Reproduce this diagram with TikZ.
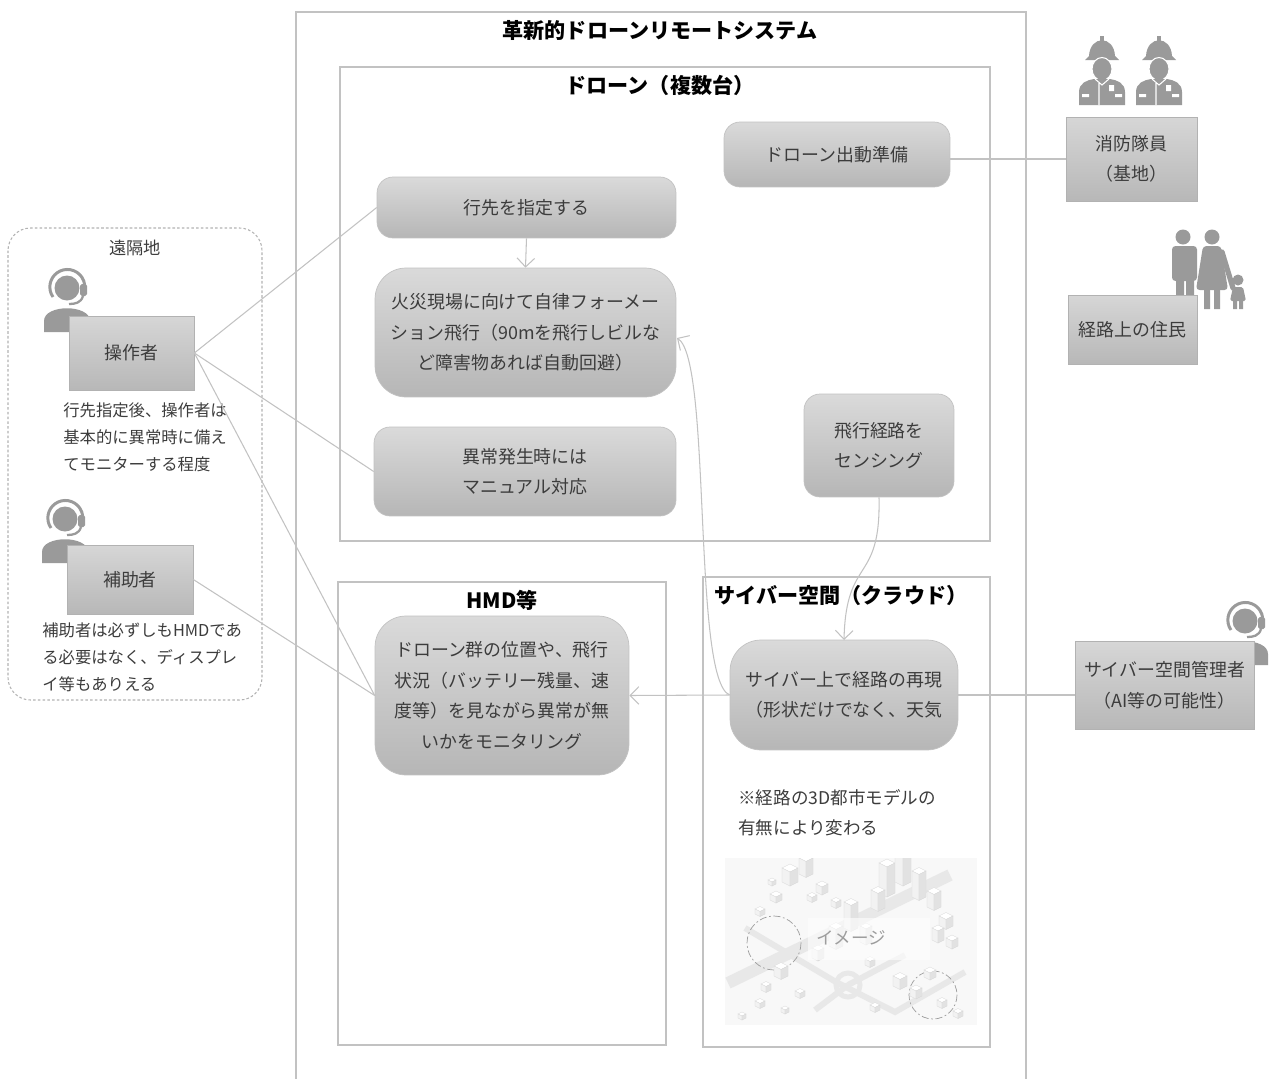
\documentclass[tikz,border=0pt]{standalone}
\usepackage{fontspec}
\setmainfont{Noto Sans CJK JP}
\usetikzlibrary{arrows.meta,calc}
\usepackage{xcolor}

\definecolor{txt}{HTML}{3C3C3C}
\definecolor{frame}{HTML}{C2C2C2}
\definecolor{icon}{HTML}{9A9A9A}
\definecolor{boxtop}{HTML}{DADADA}
\definecolor{boxbot}{HTML}{B6B6B6}

\newcommand{\bxfont}{\fontsize{10.2}{17.4}\selectfont}
\newcommand{\notefont}{\fontsize{9.3}{15.4}\selectfont}
\newcommand{\ttlfont}{\fontsize{12}{14}\selectfont\bfseries}

% small isometric block: x, y, height, half width
\newcommand{\isoblock}[4]{%
  \filldraw[fill=white, draw=black!16, line width=0.2pt] (#1-#4,#2-#3) -- (#1,#2-#3-#4/2) -- (#1+#4,#2-#3) -- (#1,#2-#3+#4/2) -- cycle;
  \filldraw[fill=black!6, draw=black!16, line width=0.2pt] (#1-#4,#2-#3) -- (#1,#2-#3+#4/2) -- (#1,#2+#4/2) -- (#1-#4,#2) -- cycle;
  \filldraw[fill=black!13, draw=black!18, line width=0.2pt] (#1,#2-#3+#4/2) -- (#1+#4,#2-#3) -- (#1+#4,#2) -- (#1,#2+#4/2) -- cycle;
}

\begin{document}
\begin{tikzpicture}[
    x=0.02cm, y=-0.02cm,
    frm/.style={draw=frame, line width=0.6pt},
    task/.style={draw=frame, top color=boxtop, bottom color=boxbot, rounded corners=0.32cm, align=center, text=txt, font=\bxfont, inner sep=0pt},
    bigtask/.style={task, rounded corners=0.62cm},
    actor/.style={draw=black!30, top color=black!16, bottom color=black!28, align=center, text=txt, font=\bxfont, inner sep=0pt},
    note/.style={align=left, text=txt, font=\notefont, inner sep=0pt, anchor=north west},
    ttl/.style={font=\ttlfont, text=black, inner sep=0pt},
    link/.style={draw=frame, line width=0.6pt},
    arrow/.style={link, -{Straight Barb[length=5pt,width=10pt]}},
    agent/.pic={
        \fill[icon] (0,0) circle (12.5);
        \draw[icon, line width=1.7pt] (-14,9) arc[start angle=145, end angle=385, radius=17.5];
        \fill[icon, rounded corners=1pt] (13,-4) rectangle (20,8);
        \draw[icon, line width=1.3pt] (16,8) .. controls (14,15) and (8,16) .. (2,16);
        \fill[icon] (-23,44) -- (-23,33) .. controls (-23,16) and (23,16) .. (23,33) -- (23,44) -- cycle;
    },
    fireman/.pic={
        \fill[icon] (-17,-6) -- (17,-6) -- (13,-10) .. controls (12,-31) and (-12,-31) .. (-13,-10) -- cycle;
        \fill[icon] (-2,-30) rectangle (2,-22);
        \fill[icon, draw=white, line width=0.6pt] (0,3) ellipse (10 and 11.5);
        \fill[icon] (-23,39) -- (-23,26) .. controls (-23,17) and (-15,14) .. (-8,13) -- (8,13) .. controls (15,14) and (23,17) .. (23,26) -- (23,39) -- cycle;
        \draw[white, line width=0.6pt] (-7,13) -- (0,19) -- (7,13) (-3,17) -- (-3,39);
        \fill[white] (-20,28) rectangle (-13,31) (13,28) rectangle (20,31) (7,19) rectangle (12,25);
    }
]
\useasboundingbox (0,0) rectangle (1269,1079);

    % Frames
    \draw[frm] (296,1090) -- (296,12) -- (1026,12) -- (1026,1090);
    \draw[frm] (340,67) rectangle (990,541);
    \draw[frm] (338,582) rectangle (666,1045);
    \draw[frm] (703,577) rectangle (990,1047);
    \draw[draw=black!30, line width=0.6pt, dash pattern=on 1.5pt off 1.2pt, rounded corners=0.45cm] (8,228) rectangle (262,700);

    \node[ttl] (sysT) at (660,30) {革新的ドローンリモートシステム};
    \node[ttl] (droneT) at (660,85) {ドローン（複数台）};
    \node[ttl] (hmdT) at (502,600) {HMD等};
    \node[ttl] (cyberT) at (841,595) {サイバー空間（クラウド）};
    \node[text=txt, font=\fontsize{9.8}{12}\selectfont, inner sep=0pt] (remoteT) at (135,248) {遠隔地};

    % Icons
    \pic at (67,288) {agent};
    \pic at (65,519) {agent};
    \pic at (1245,621) {agent};
    \pic at (1102,66) {fireman};
    \pic at (1159,66) {fireman};

    % family
    \fill[icon] (1183,237) circle (7.5) (1212,237) circle (7.5) (1238,280) circle (5.5);
    \fill[icon, rounded corners=2pt] (1172,246) rectangle (1197,281);
    \fill[icon] (1176,275) rectangle (1184,309) (1186,275) rectangle (1194,309);
    \fill[icon, rounded corners=2pt] (1203,246) -- (1221,246) -- (1228,290) -- (1196,290) -- cycle;
    \fill[icon] (1204,286) rectangle (1210,309) (1214,286) rectangle (1220,309);
    \draw[icon, line width=3pt, line cap=round] (1222,252) -- (1233,288);
    \fill[icon, rounded corners=1pt] (1233,287) -- (1243,287) -- (1246,301) -- (1230,301) -- cycle;
    \fill[icon] (1233,299) rectangle (1237,309) (1239,299) rectangle (1243,309);

    % Nodes
    \node[task, minimum width=4.52cm, minimum height=1.3cm] (prep) at (837,154.5) {ドローン出動準備};
    \node[task, minimum width=5.98cm, minimum height=1.22cm] (dest) at (526.5,207.5) {行先を指定する};
    \node[bigtask, minimum width=6.02cm, minimum height=2.58cm] (flight) at (525.5,332.5)
        {火災現場に向けて自律フォーメー\\ション飛行（90mを飛行しビルな\\ど障害物あれば自動回避）};
    \node[task, minimum width=6.04cm, minimum height=1.78cm] (manual) at (525,471.5) {異常発生時には\\マニュアル対応};
    \node[task, minimum width=3.0cm, minimum height=2.06cm] (sensing) at (879,445.5) {飛行経路を\\センシング};
    \node[bigtask, minimum width=5.08cm, minimum height=3.18cm] (monitor) at (502,695.5)
        {ドローン群の位置や、飛行\\状況（バッテリー残量、速\\度等）を見ながら異常が無\\いかをモニタリング};
    \node[bigtask, minimum width=4.56cm, minimum height=2.2cm] (replay) at (844,695) {サイバー上で経路の再現\\（形状だけでなく、天気};

    \node[actor, minimum width=2.5cm, minimum height=1.48cm] (op) at (131.5,353) {操作者};
    \node[actor, minimum width=2.52cm, minimum height=1.38cm] (asst) at (130,579.5) {補助者};
    \node[actor, minimum width=2.62cm, minimum height=1.68cm] (firemen) at (1131.5,159) {消防隊員\\（基地）};
    \node[actor, minimum width=2.58cm, minimum height=1.38cm] (residents) at (1132.5,329.5) {経路上の住民};
    \node[actor, minimum width=3.58cm, minimum height=1.76cm] (admin) at (1164.5,685.5) {サイバー空間管理者\\（AI等の可能性）};

    \node[note] (opNote) at (63,402) {行先指定後、操作者は\\基本的に異常時に備え\\てモニターする程度};
    \node[note] (asstNote) at (42,622) {補助者は必ずしもHMDであ\\る必要はなく、ディスプレ\\イ等もありえる};
    \node[note, font=\fontsize{10}{17}\selectfont] (cityNote) at (738,789) {※経路の3D都市モデルの\\有無により変わる};

    % Arrows
    \draw[link] (op.east) -- (dest.west);
    \draw[link] (op.east) -- (manual.west);
    \draw[link] (op.east) -- (monitor.west);
    \draw[link] (asst.east) -- (monitor.west);
    \draw[link] (firemen.west) -- (prep.east |- firemen.west);
    \draw[link] (admin.west |- replay.east) -- (replay.east);

    \draw[arrow] (dest.south) -- (flight.north);
    \draw[arrow] (sensing.south) .. controls (881,585) and (846,555) .. (844,640);
    \draw[arrow] (replay.west) -- (monitor.east);
    \draw[arrow] (replay.west) .. controls (692,680) and (712,360) .. (677,338);

    % 3D city model
    \begin{scope}
        \clip (725,858) rectangle (977,1025);
        \fill[black!3] (725,858) rectangle (977,1025);
        \draw[black!10, line width=0.24cm] (728,983) -- (950,875);
        \draw[black!10, line width=0.12cm] (745,928) -- (836,982) -- (895,1012) -- (965,972);
        \draw[black!10, line width=0.12cm] (848,985) -- (815,1010);
        \draw[black!10, line width=0.12cm] (848,985) -- (905,955);
        \draw[black!10, line width=0.1cm] (848,985) circle (12);
        \draw[black!45, line width=0.4pt, dash pattern=on 4pt off 1.5pt on 1pt off 1.5pt] (774,943) circle (27);
        \draw[black!45, line width=0.4pt, dash pattern=on 4pt off 1.5pt on 1pt off 1.5pt] (933,995) circle (24);
        \foreach \bx/\by/\bh/\bw in {790/882/14/8, 806/874/16/7, 822/892/8/6, 776/900/6/6, 760/914/5/5,
            836/906/6/5, 812/900/5/5, 772/884/4/4, 887/893/30/8, 903/882/36/8, 919/897/26/7, 934/907/16/7,
            878/908/18/7, 946/926/10/7, 952/946/8/6, 938/940/12/6, 781/976/10/7, 766/990/6/5, 800/996/5/5,
            760/1006/5/5, 785/1012/4/4, 900/986/10/7, 916/996/8/6, 930/977/7/6, 942/1006/6/5, 875/1010/5/5,
            851/928/26/7, 836/946/20/7, 866/942/16/6, 818/958/10/6, 870/965/6/5, 958/1016/5/5, 742/1018/4/4}
            {\isoblock{\bx}{\by}{\bh}{\bw}}
        \fill[white, opacity=0.6] (808,918) rectangle (930,960);
        \node[text=black!45, font=\fontsize{10}{12}\selectfont, inner sep=0pt] (cityT) at (851,938) {イメージ};
        \fill[white, opacity=0.15] (725,858) rectangle (977,1025);
    \end{scope}

\end{tikzpicture}
\end{document}
